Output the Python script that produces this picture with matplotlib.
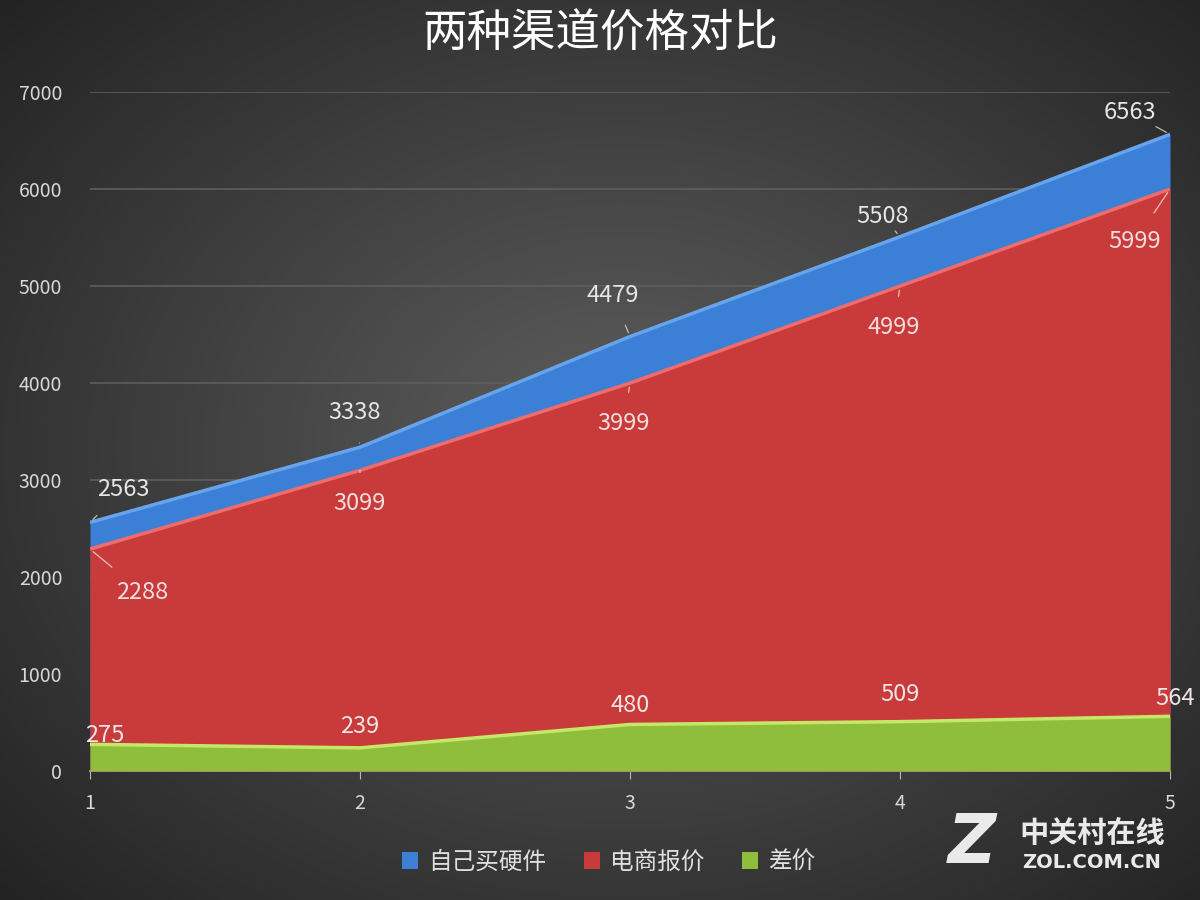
import numpy as np
import matplotlib
matplotlib.use("Agg")
import matplotlib.pyplot as plt

plt.rcParams['font.family'] = ['Noto Sans CJK SC', 'DejaVu Sans']

x = [1, 2, 3, 4, 5]
self_build = [2563, 3338, 4479, 5508, 6563]
ecommerce = [2288, 3099, 3999, 4999, 5999]
diff = [275, 239, 480, 509, 564]
series_names = ['自己买硬件', '电商报价', '差价']
title = '两种渠道价格对比'

fig = plt.figure(figsize=(12, 9), dpi=100)

# radial gradient background
bg = fig.add_axes([0, 0, 1, 1], zorder=-10)
yy, xx = np.mgrid[0:900, 0:1200]
r = np.sqrt(((xx - 620) / 800.0) ** 2 + ((yy - 450) / 620.0) ** 2)
v = np.clip(0.37 - 0.22 * r, 0.11, 0.37)
img = np.dstack([v, v, v])
bg.imshow(img, aspect='auto', extent=[0, 1, 0, 1], origin='upper')
bg.axis('off')

ax = fig.add_axes([0.075, 0.1433, 0.9, 0.7545])
ax.patch.set_alpha(0)

ax.set_xlim(1, 5)
ax.set_ylim(0, 7000)
ax.set_yticks(range(0, 7001, 1000))
ax.set_xticks(x)
ax.grid(axis='y', color='#5e5e5e', linewidth=1.2)
ax.set_axisbelow(True)
for s in ['top', 'right', 'left']:
    ax.spines[s].set_visible(False)
ax.spines['bottom'].set_color('#b8b8b8')
ax.spines['bottom'].set_linewidth(1.2)
ax.tick_params(axis='y', length=0, pad=20, labelsize=14, labelcolor='#d8d8d8')
ax.tick_params(axis='x', length=6, color='#b8b8b8', direction='out', pad=10, labelsize=14, labelcolor='#d8d8d8')

specs = [
    (self_build, '#3c7fd6', '#68a4ec', 2),
    (ecommerce, '#c93a3a', '#ee6c6c', 3),
    (diff, '#8fbd3c', '#c6e868', 4),
]
handles = []
for (vals, base, light, z), name in zip(specs, series_names):
    h = ax.fill_between(x, 0, vals, color=base, zorder=z, linewidth=0, label=name)
    ax.plot(x, vals, color=light, linewidth=2.5, zorder=z + 0.1, solid_capstyle='butt')
    handles.append(h)

# data labels (offset in pixels)
label_color = '#e6e6e6'
blue_off = [(33, 33), (-5, 35), (-17, 41), (-17, 20), (-40, 22)]
red_off = [(52, -43), (0, -33), (-6, -40), (-6, -41), (-35, -52)]
green_off = [(15, 9), (0, 21), (0, 19), (0, 27), (5, 18)]

for xi, vi, off in zip(x, self_build, blue_off):
    ax.annotate(str(vi), (xi, vi), xytext=off, textcoords='offset pixels',
                ha='center', va='center', fontsize=17, color=label_color, zorder=10,
                arrowprops=dict(arrowstyle='-', color='#bbbbbb', lw=0.9, shrinkA=12, shrinkB=3))
for xi, vi, off in zip(x, ecommerce, red_off):
    ax.annotate(str(vi), (xi, vi), xytext=off, textcoords='offset pixels',
                ha='center', va='center', fontsize=17, color='#f2dede', zorder=10,
                arrowprops=dict(arrowstyle='-', color='#e8c0c0', lw=0.9, shrinkA=12, shrinkB=3))
for xi, vi, off in zip(x, diff, green_off):
    ax.annotate(str(vi), (xi, vi), xytext=off, textcoords='offset pixels',
                ha='center', va='center', fontsize=17, color='#f0e6e6', zorder=10)

fig.text(0.5, 0.963, title, ha='center', va='center', fontsize=32,
         fontweight='medium', color='white')

leg = fig.legend(handles=handles, loc='center', bbox_to_anchor=(0.507, 0.042), ncol=3,
                 frameon=False, fontsize=17, labelcolor='#e0e0e0',
                 handlelength=0.7, handleheight=0.7, handletextpad=0.4, columnspacing=1.6)

# watermark
fig.text(0.81, 0.062, 'Z', fontsize=48, fontweight='bold', color='white',
         ha='center', va='center', family=['DejaVu Sans'], style='italic', alpha=0.9)
fig.text(0.91, 0.075, '中关村在线', fontsize=21, fontweight='bold', color='white',
         ha='center', va='center', alpha=0.9)
fig.text(0.91, 0.042, 'ZOL.COM.CN', fontsize=14, fontweight='bold', color='white',
         ha='center', va='center', family=['DejaVu Sans'], alpha=0.9)

fig.savefig('out.png', dpi=100)
